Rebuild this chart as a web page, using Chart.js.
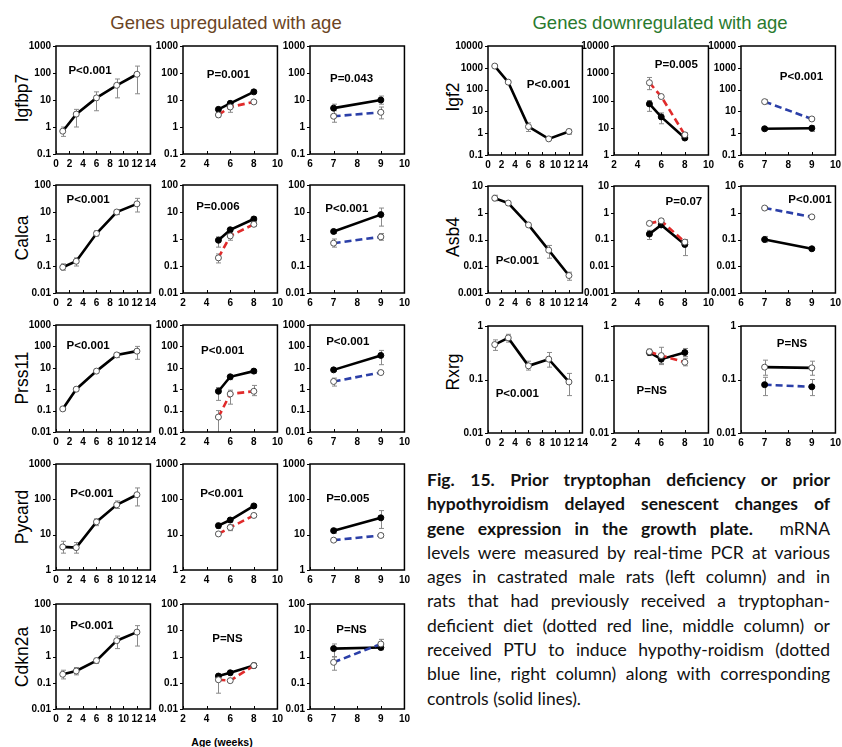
<!DOCTYPE html>
<html>
<head>
<meta charset="utf-8">
<script src="https://cdn.jsdelivr.net/npm/chart.js@4.4.1/dist/chart.umd.min.js"></script>
<style>
  body { margin: 0; background: #fff; }
  #fig { position: relative; width: 842px; height: 747px; overflow: hidden; font-family: "Liberation Sans", Arial, sans-serif; }
  .title { position: absolute; font-size: 18.5px; transform: translate(-50%, -50%); white-space: nowrap; }
  .rowlab { position: absolute; font-size: 17.5px; transform: translate(-50%, -50%) rotate(-90deg); white-space: nowrap; }
  .xlab { position: absolute; font-size: 10.5px; font-weight: bold; transform: translate(-50%, -50%); white-space: nowrap; }
  #caption { position: absolute; left: 427px; top: 468px; width: 403px; font-family: Lato, "Open Sans", sans-serif; font-size: 17.5px; color: #111; }
  #caption div { height: 24.3px; line-height: 24.3px; white-space: nowrap; text-align: justify; text-align-last: justify; }
  #caption div.last { text-align-last: left; }
  #caption b { font-weight: bold; }
</style>
</head>
<body>
<div id="fig">
  <div class="title" style="left:226px;top:23px;color:#6b4423">Genes upregulated with age</div>
  <div class="title" style="left:660px;top:23px;color:#2a7a2e">Genes downregulated with age</div>

  <div class="rowlab" style="left:22px;top:98px">Igfbp7</div>
  <div class="rowlab" style="left:22px;top:238px">Calca</div>
  <div class="rowlab" style="left:22px;top:378px">Prss11</div>
  <div class="rowlab" style="left:22px;top:517px">Pycard</div>
  <div class="rowlab" style="left:22px;top:657px">Cdkn2a</div>
  <div class="rowlab" style="left:453px;top:97px">Igf2</div>
  <div class="rowlab" style="left:453px;top:237px">Asb4</div>
  <div class="rowlab" style="left:453px;top:372px">Rxrg</div>

  <div class="xlab" style="left:222px;top:742px">Age (weeks)</div>

  <div id="caption">
    <div><b>Fig. 15. Prior tryptophan deficiency or prior</b></div>
    <div><b>hypothyroidism delayed senescent changes of</b></div>
    <div><b>gene expression in the growth plate.</b>&nbsp; mRNA</div>
    <div>levels were measured by real-time PCR at various</div>
    <div>ages in castrated male rats (left column) and in</div>
    <div>rats that had previously received a tryptophan-</div>
    <div>deficient diet (dotted red line, middle column) or</div>
    <div>received PTU to induce hypothy-roidism (dotted</div>
    <div>blue line, right column) along with corresponding</div>
    <div class="last">controls (solid lines).</div>
  </div>
</div>

<script>
// ages (weeks) for each column
const ageCastrated = [1, 3, 6, 9, 12];
const ageTrp = [5, 6, 8];
const agePtu = [7, 9];

// Igfbp7
const igfbp7Age = [0.7, 3, 12, 35, 90];
const igfbp7AgeErr = [[0.45, 1.0], [1.0, 4.5], [4, 20], [12, 60], [17, 180]];
const igfbp7TrpCtl = [4.5, 7.5, 20];
const igfbp7TrpCtlErr = [[3.8, 5.3], [6, 9], [18, 23]];
const igfbp7Trp = [2.8, 5.5, 8.5];
const igfbp7TrpErr = [[2.3, 3.3], [3.5, 7.5], [7.5, 9.5]];
const igfbp7PtuCtl = [5, 10];
const igfbp7PtuCtlErr = [[3, 7], [7, 14]];
const igfbp7Ptu = [2.5, 3.5];
const igfbp7PtuErr = [[1.5, 4], [2, 5.5]];
const igfbp7P = ['P<0.001', 'P=0.001', 'P=0.043'];

// Calca
const calcaAge = [0.09, 0.15, 1.6, 10, 20];
const calcaAgeErr = [[0.07, 0.12], [0.1, 0.2], [1.3, 2], [8, 12], [10, 32]];
const calcaTrpCtl = [0.9, 2.2, 5.5];
const calcaTrpCtlErr = [[0.5, 1.2], [1.8, 2.6], [4.5, 6.5]];
const calcaTrp = [0.2, 1.3, 3.5];
const calcaTrpErr = [[0.13, 0.28], [0.9, 1.6], [3, 4]];
const calcaPtuCtl = [1.9, 8];
const calcaPtuCtlErr = [[1.6, 2.2], [3, 14]];
const calcaPtu = [0.7, 1.2];
const calcaPtuErr = [[0.5, 1], [0.9, 1.6]];
const calcaP = ['P<0.001', 'P=0.006', 'P<0.001'];

// Prss11
const prss11Age = [0.12, 1, 7, 40, 60];
const prss11AgeErr = [[0.1, 0.14], [0.85, 1.15], [6, 8], [30, 50], [25, 100]];
const prss11TrpCtl = [0.8, 3.8, 7];
const prss11TrpCtlErr = [[0.3, 1.2], [2.8, 4.5], [5.5, 8]];
const prss11Trp = [0.05, 0.6, 0.8];
const prss11TrpErr = [[0.005, 0.1], [0.2, 0.9], [0.5, 1.5]];
const prss11PtuCtl = [8, 38];
const prss11PtuCtlErr = [[7, 9], [14, 65]];
const prss11Ptu = [2.3, 6];
const prss11PtuErr = [[1.4, 3.3], [5.5, 6.5]];
const prss11P = ['P<0.001', 'P<0.001', 'P<0.001'];

// Pycard
const pycardAge = [4.5, 4.3, 23, 70, 135];
const pycardAgeErr = [[3, 6.5], [3, 6], [18, 28], [55, 90], [65, 210]];
const pycardTrpCtl = [18, 26, 65];
const pycardTrpCtlErr = [[15, 21], [23, 29], [60, 70]];
const pycardTrp = [10.5, 16, 35];
const pycardTrpErr = [[9.5, 11.5], [13, 19], [32, 38]];
const pycardPtuCtl = [13, 30];
const pycardPtuCtlErr = [[11, 15], [15, 48]];
const pycardPtu = [7, 9.5];
const pycardPtuErr = [[6.5, 7.5], [8.5, 10.5]];
const pycardP = ['P<0.001', 'P<0.001', 'P=0.005'];

// Cdkn2a
const cdkn2aAge = [0.21, 0.28, 0.7, 4, 8.5];
const cdkn2aAgeErr = [[0.14, 0.3], [0.2, 0.38], [0.55, 0.85], [2, 6], [2.5, 15]];
const cdkn2aTrpCtl = [0.18, 0.24, 0.45];
const cdkn2aTrpCtlErr = [[0.15, 0.21], [0.2, 0.28], [0.38, 0.55]];
const cdkn2aTrp = [0.13, 0.12, 0.45];
const cdkn2aTrpErr = [[0.04, 0.2], [0.11, 0.13], [0.4, 0.5]];
const cdkn2aPtuCtl = [2, 2.2];
const cdkn2aPtuCtlErr = [[1, 3], [1.8, 2.8]];
const cdkn2aPtu = [0.6, 3];
const cdkn2aPtuErr = [[0.3, 0.95], [2, 4.5]];
const cdkn2aP = ['P<0.001', 'P=NS', 'P=NS'];

// Igf2
const igf2Age = [1200, 220, 2, 0.55, 1.2];
const igf2AgeErr = [[1000, 1400], [190, 250], [1.2, 3], [0.5, 0.62], [0.9, 1.5]];
const igf2TrpCtl = [75, 25, 4.2];
const igf2TrpCtlErr = [[40, 100], [14, 35], [3.8, 4.6]];
const igf2Trp = [450, 140, 5.5];
const igf2TrpErr = [[250, 700], [120, 160], [5, 6.5]];
const igf2PtuCtl = [1.6, 1.7];
const igf2PtuCtlErr = [[1.4, 1.8], [1.2, 2.2]];
const igf2Ptu = [28, 4.5];
const igf2PtuErr = [[22, 34], [4, 5]];
const igf2P = ['P<0.001', 'P=0.005', 'P<0.001'];

// Asb4
const asb4Age = [3.5, 2.3, 0.35, 0.04, 0.0045];
const asb4AgeErr = [[2.8, 4.5], [2.1, 2.5], [0.3, 0.4], [0.02, 0.06], [0.003, 0.006]];
const asb4TrpCtl = [0.16, 0.35, 0.065];
const asb4TrpCtlErr = [[0.1, 0.22], [0.3, 0.4], [0.025, 0.1]];
const asb4Trp = [0.4, 0.5, 0.08];
const asb4TrpErr = [[0.35, 0.45], [0.4, 0.6], [0.07, 0.09]];
const asb4PtuCtl = [0.1, 0.045];
const asb4PtuCtlErr = [[0.08, 0.13], [0.042, 0.048]];
const asb4Ptu = [1.5, 0.7];
const asb4PtuErr = [[1.3, 1.7], [0.65, 0.75]];
const asb4P = ['P<0.001', 'P=0.07', 'P<0.001'];

// Rxrg
const rxrgAge = [0.45, 0.6, 0.18, 0.24, 0.09];
const rxrgAgeErr = [[0.35, 0.55], [0.5, 0.7], [0.15, 0.22], [0.17, 0.32], [0.05, 0.13]];
const rxrgTrpCtl = [0.32, 0.24, 0.32];
const rxrgTrpCtlErr = [[0.28, 0.36], [0.19, 0.3], [0.27, 0.38]];
const rxrgTrp = [0.33, 0.28, 0.21];
const rxrgTrpErr = [[0.29, 0.37], [0.2, 0.4], [0.18, 0.25]];
const rxrgPtuCtl = [0.17, 0.165];
const rxrgPtuCtlErr = [[0.12, 0.23], [0.12, 0.22]];
const rxrgPtu = [0.08, 0.073];
const rxrgPtuErr = [[0.05, 0.11], [0.05, 0.1]];
const rxrgP = ['P<0.001', 'P=NS', 'P=NS'];

// y ranges per panel (left, middle, right)
const igfbp7Range = [[0.1, 1000], [0.1, 1000], [0.1, 1000]];
const calcaRange = [[0.01, 100], [0.01, 100], [0.01, 100]];
const prss11Range = [[0.01, 1000], [0.01, 1000], [0.01, 1000]];
const pycardRange = [[1, 1000], [1, 1000], [1, 1000]];
const cdkn2aRange = [[0.01, 100], [0.01, 100], [0.01, 100]];
const igf2Range = [[0.1, 10000], [1, 10000], [0.1, 10000]];
const asb4Range = [[0.001, 10], [0.001, 10], [0.001, 10]];
const rxrgRange = [[0.01, 1], [0.01, 1], [0.01, 1]];

// x axes per column
const xAxes = [
  { min: 0, max: 14, step: 2 },
  { min: 2, max: 10, step: 2 },
  { min: 6, max: 10, step: 1 }
];

// layout of plot boxes (pixels)
const BOX_W = 95;
const COLS_UP = [56, 183, 310];
const COLS_DOWN = [488, 614, 741];
const ROWS_UP = [[43, 154], [182, 293], [322, 432], [461, 570], [601, 709]];
const ROWS_DOWN = [[43, 155], [183, 293], [323, 433]];

// P label position as fraction of plot box
const pPosUp = [
  [[0.36, 0.23], [0.48, 0.27], [0.44, 0.30]],
  [[0.34, 0.14], [0.37, 0.20], [0.39, 0.22]],
  [[0.34, 0.19], [0.42, 0.24], [0.40, 0.16]],
  [[0.38, 0.28], [0.41, 0.28], [0.40, 0.33]],
  [[0.38, 0.21], [0.47, 0.33], [0.44, 0.25]]
];
const pPosDown = [
  [[0.64, 0.36], [0.66, 0.17], [0.64, 0.28]],
  [[0.31, 0.70], [0.74, 0.15], [0.73, 0.13]],
  [[0.31, 0.63], [0.40, 0.61], [0.54, 0.17]]
];

const BLACK = '#000';
const RED = '#e02b2b';
const BLUE = '#2b3fa8';
const ERR = '#8a8a8a';
const FONT = '"Liberation Sans", Arial, sans-serif';

function ser(xs, ys, err, color, dash, fill) {
  return { xs, ys, err, color, dash, fill };
}

const genesUp = [
  { range: igfbp7Range, p: igfbp7P, panels: [
    [ser(ageCastrated, igfbp7Age, igfbp7AgeErr, BLACK, [], '#fff')],
    [ser(ageTrp, igfbp7Trp, igfbp7TrpErr, RED, [7, 4], '#fff'), ser(ageTrp, igfbp7TrpCtl, igfbp7TrpCtlErr, BLACK, [], BLACK)],
    [ser(agePtu, igfbp7Ptu, igfbp7PtuErr, BLUE, [7, 4], '#fff'), ser(agePtu, igfbp7PtuCtl, igfbp7PtuCtlErr, BLACK, [], BLACK)]
  ]},
  { range: calcaRange, p: calcaP, panels: [
    [ser(ageCastrated, calcaAge, calcaAgeErr, BLACK, [], '#fff')],
    [ser(ageTrp, calcaTrp, calcaTrpErr, RED, [7, 4], '#fff'), ser(ageTrp, calcaTrpCtl, calcaTrpCtlErr, BLACK, [], BLACK)],
    [ser(agePtu, calcaPtu, calcaPtuErr, BLUE, [7, 4], '#fff'), ser(agePtu, calcaPtuCtl, calcaPtuCtlErr, BLACK, [], BLACK)]
  ]},
  { range: prss11Range, p: prss11P, panels: [
    [ser(ageCastrated, prss11Age, prss11AgeErr, BLACK, [], '#fff')],
    [ser(ageTrp, prss11Trp, prss11TrpErr, RED, [7, 4], '#fff'), ser(ageTrp, prss11TrpCtl, prss11TrpCtlErr, BLACK, [], BLACK)],
    [ser(agePtu, prss11Ptu, prss11PtuErr, BLUE, [7, 4], '#fff'), ser(agePtu, prss11PtuCtl, prss11PtuCtlErr, BLACK, [], BLACK)]
  ]},
  { range: pycardRange, p: pycardP, panels: [
    [ser(ageCastrated, pycardAge, pycardAgeErr, BLACK, [], '#fff')],
    [ser(ageTrp, pycardTrp, pycardTrpErr, RED, [7, 4], '#fff'), ser(ageTrp, pycardTrpCtl, pycardTrpCtlErr, BLACK, [], BLACK)],
    [ser(agePtu, pycardPtu, pycardPtuErr, BLUE, [7, 4], '#fff'), ser(agePtu, pycardPtuCtl, pycardPtuCtlErr, BLACK, [], BLACK)]
  ]},
  { range: cdkn2aRange, p: cdkn2aP, panels: [
    [ser(ageCastrated, cdkn2aAge, cdkn2aAgeErr, BLACK, [], '#fff')],
    [ser(ageTrp, cdkn2aTrp, cdkn2aTrpErr, RED, [7, 4], '#fff'), ser(ageTrp, cdkn2aTrpCtl, cdkn2aTrpCtlErr, BLACK, [], BLACK)],
    [ser(agePtu, cdkn2aPtu, cdkn2aPtuErr, BLUE, [7, 4], '#fff'), ser(agePtu, cdkn2aPtuCtl, cdkn2aPtuCtlErr, BLACK, [], BLACK)]
  ]}
];

const genesDown = [
  { range: igf2Range, p: igf2P, panels: [
    [ser(ageCastrated, igf2Age, igf2AgeErr, BLACK, [], '#fff')],
    [ser(ageTrp, igf2Trp, igf2TrpErr, RED, [7, 4], '#fff'), ser(ageTrp, igf2TrpCtl, igf2TrpCtlErr, BLACK, [], BLACK)],
    [ser(agePtu, igf2Ptu, igf2PtuErr, BLUE, [7, 4], '#fff'), ser(agePtu, igf2PtuCtl, igf2PtuCtlErr, BLACK, [], BLACK)]
  ]},
  { range: asb4Range, p: asb4P, panels: [
    [ser(ageCastrated, asb4Age, asb4AgeErr, BLACK, [], '#fff')],
    [ser(ageTrp, asb4Trp, asb4TrpErr, RED, [7, 4], '#fff'), ser(ageTrp, asb4TrpCtl, asb4TrpCtlErr, BLACK, [], BLACK)],
    [ser(agePtu, asb4Ptu, asb4PtuErr, BLUE, [7, 4], '#fff'), ser(agePtu, asb4PtuCtl, asb4PtuCtlErr, BLACK, [], BLACK)]
  ]},
  { range: rxrgRange, p: rxrgP, panels: [
    [ser(ageCastrated, rxrgAge, rxrgAgeErr, BLACK, [], '#fff')],
    [ser(ageTrp, rxrgTrp, rxrgTrpErr, RED, [7, 4], '#fff'), ser(ageTrp, rxrgTrpCtl, rxrgTrpCtlErr, BLACK, [], BLACK)],
    // in this panel the control has open markers and the PTU group filled ones
    [ser(agePtu, rxrgPtu, rxrgPtuErr, BLUE, [7, 4], BLACK), ser(agePtu, rxrgPtuCtl, rxrgPtuCtlErr, BLACK, [], '#fff')]
  ]}
];

// error bars, frame, tick marks and the P text
const panelDeco = {
  id: 'panelDeco',
  beforeDatasetsDraw(chart) {
    const { ctx, chartArea: a, scales } = chart;
    ctx.save();
    ctx.beginPath();
    ctx.rect(a.left, a.top, a.right - a.left, a.bottom - a.top);
    ctx.clip();
    ctx.strokeStyle = ERR;
    ctx.lineWidth = 1;
    chart.data.datasets.forEach((ds) => {
      (ds.errorBars || []).forEach((e, i) => {
        const x = Math.round(scales.x.getPixelForValue(ds.data[i].x)) + 0.5;
        const y0 = scales.y.getPixelForValue(e[0]);
        const y1 = scales.y.getPixelForValue(e[1]);
        ctx.beginPath();
        ctx.moveTo(x, y0); ctx.lineTo(x, y1);
        ctx.moveTo(x - 2.5, y0); ctx.lineTo(x + 2.5, y0);
        ctx.moveTo(x - 2.5, y1); ctx.lineTo(x + 2.5, y1);
        ctx.stroke();
      });
    });
    ctx.restore();
  },
  afterDraw(chart) {
    const { ctx, chartArea: a, scales } = chart;
    const o = chart.options.plugins.panelDeco;
    ctx.save();
    ctx.strokeStyle = '#000';
    ctx.lineWidth = 1;
    ctx.beginPath();
    scales.x.ticks.forEach((t) => {
      const x = Math.round(scales.x.getPixelForValue(t.value)) + 0.5;
      ctx.moveTo(x, a.bottom); ctx.lineTo(x, a.bottom - 3);
    });
    scales.y.ticks.forEach((t) => {
      const y = Math.round(scales.y.getPixelForValue(t.value)) + 0.5;
      ctx.moveTo(a.left, y); ctx.lineTo(a.left - 3, y);
    });
    ctx.stroke();
    ctx.lineWidth = 1.5;
    ctx.strokeRect(a.left, a.top, a.right - a.left, a.bottom - a.top);
    if (o && o.text) {
      ctx.fillStyle = '#000';
      ctx.font = 'bold 11.5px ' + FONT;
      ctx.textAlign = 'center';
      ctx.textBaseline = 'middle';
      ctx.fillText(o.text, a.left + o.pos[0] * (a.right - a.left), a.top + o.pos[1] * (a.bottom - a.top));
    }
    ctx.restore();
  }
};

const AXW = 40, AXH = 20, PT = 8, PR = 9;
const decadeLabel = (v) => String(Number(v.toPrecision(1)));

function makePanel(left, top, h, xa, range, series, pText, pPos) {
  const cv = document.createElement('canvas');
  const W = BOX_W + AXW + PR;
  const H = h + PT + AXH;
  cv.width = W;
  cv.height = H;
  cv.style.cssText = `position:absolute;left:${left - AXW}px;top:${top - PT}px;width:${W}px;height:${H}px`;
  document.getElementById('fig').appendChild(cv);

  const decades = [];
  for (let e = Math.round(Math.log10(range[0])); e <= Math.round(Math.log10(range[1])); e++) {
    decades.push(Math.pow(10, e));
  }

  new Chart(cv, {
    type: 'line',
    data: {
      datasets: series.map((s) => ({
        data: s.xs.map((x, i) => ({ x, y: s.ys[i] })),
        errorBars: s.err,
        borderColor: s.color,
        borderWidth: 2.6,
        borderDash: s.dash,
        pointRadius: 3,
        pointBackgroundColor: s.fill,
        pointBorderColor: s.fill === '#fff' ? '#555' : BLACK,
        pointBorderWidth: 1,
        tension: 0,
        clip: 2
      }))
    },
    options: {
      responsive: false,
      animation: false,
      devicePixelRatio: 1,
      layout: { padding: { top: PT, right: PR, left: 0, bottom: 0 } },
      plugins: {
        legend: { display: false },
        tooltip: { enabled: false },
        panelDeco: { text: pText, pos: pPos }
      },
      scales: {
        x: {
          type: 'linear',
          min: xa.min,
          max: xa.max,
          ticks: { stepSize: xa.step, color: '#000', padding: 4, maxRotation: 0, autoSkip: false,
                   font: { family: FONT, size: 10, weight: 'bold' } },
          grid: { display: false, drawTicks: false },
          border: { display: false },
          afterFit: (s) => { s.height = AXH; }
        },
        y: {
          type: 'logarithmic',
          min: range[0],
          max: range[1],
          afterBuildTicks: (s) => { s.ticks = decades.map((v) => ({ value: v })); },
          ticks: { color: '#000', padding: 5, autoSkip: false, callback: decadeLabel,
                   font: { family: FONT, size: 10, weight: 'bold' } },
          grid: { display: false, drawTicks: false },
          border: { display: false },
          afterFit: (s) => { s.width = AXW; }
        }
      }
    },
    plugins: [panelDeco]
  });
}

genesUp.forEach((g, r) => {
  const [top, bottom] = ROWS_UP[r];
  g.panels.forEach((series, c) => {
    makePanel(COLS_UP[c], top, bottom - top, xAxes[c], g.range[c], series, g.p[c], pPosUp[r][c]);
  });
});
genesDown.forEach((g, r) => {
  const [top, bottom] = ROWS_DOWN[r];
  g.panels.forEach((series, c) => {
    makePanel(COLS_DOWN[c], top, bottom - top, xAxes[c], g.range[c], series, g.p[c], pPosDown[r][c]);
  });
});
</script>
</body>
</html>
